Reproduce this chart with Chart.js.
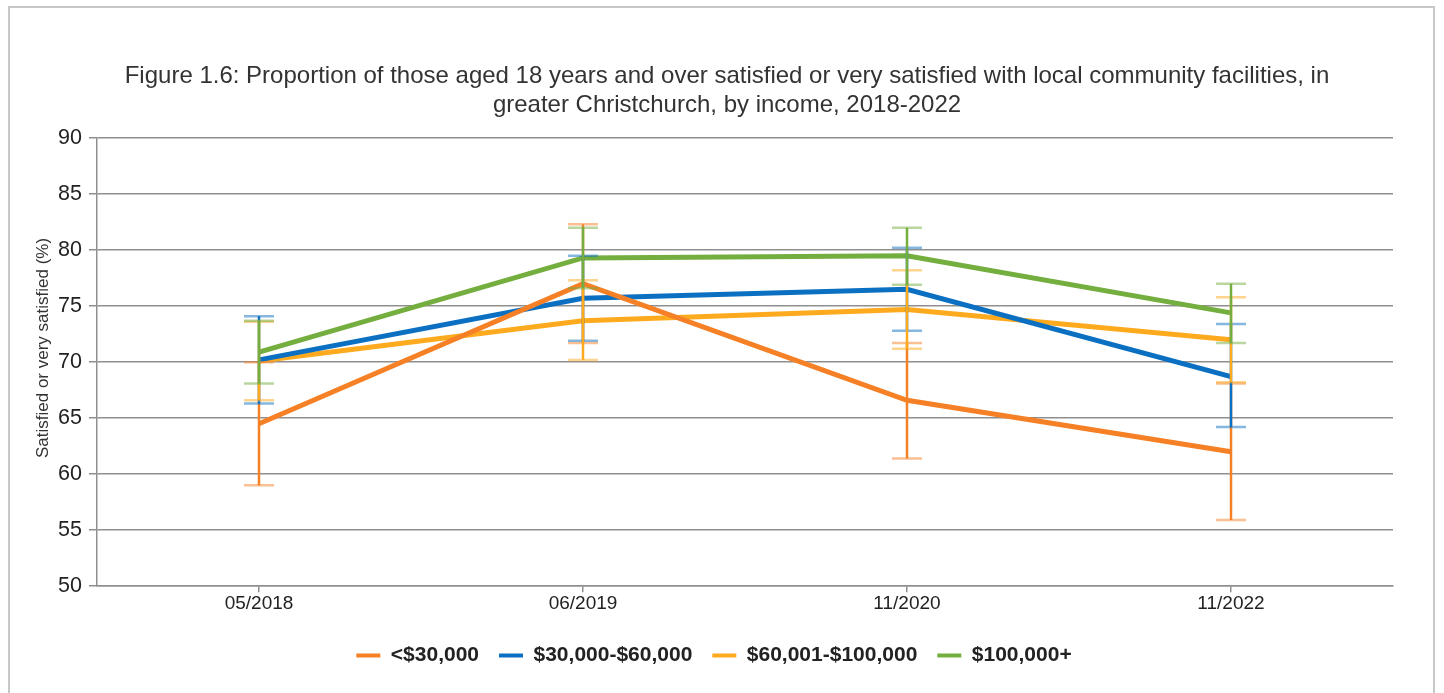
<!DOCTYPE html>
<html>
<head>
<meta charset="utf-8">
<script src="https://cdn.jsdelivr.net/npm/chart.js@4.4.1/dist/chart.umd.min.js"></script>
<style>
  html, body { margin: 0; padding: 0; background: #fff; }
  #wrap { position: relative; width: 1444px; height: 693px; overflow: hidden; }
  #frame { position: absolute; left: 8px; top: 6px; width: 1427px; height: 720px; border: 2px solid #c8c8c8; box-sizing: border-box; pointer-events: none; }
  canvas { position: absolute; left: 0; top: 0; }
</style>
</head>
<body>
<div id="wrap">
  <canvas id="grafico" width="1444" height="693"></canvas>
  <div id="frame"></div>
</div>
<script>
// periodos do inquerito
const categorias = ['05/2018', '06/2019', '11/2020', '11/2022'];

// valores (%) por faixa de renda
const ate30k = [64.5, 77.0, 66.6, 62.0];
const de30a60k = [70.2, 75.7, 76.5, 68.7];
const de60a100k = [70.1, 73.7, 74.7, 72.0];
const acima100k = [70.9, 79.3, 79.5, 74.4];

// intervalos de confianca (limite inferior / superior)
const ate30kMin = [59.0, 71.7, 61.4, 55.9];
const ate30kMax = [70.0, 82.3, 71.7, 68.1];
const de30a60kMin = [66.3, 71.9, 72.8, 64.2];
const de30a60kMax = [74.1, 79.5, 80.2, 73.4];
const de60a100kMin = [66.6, 70.2, 71.2, 68.2];
const de60a100kMax = [73.6, 77.3, 78.2, 75.8];
const acima100kMin = [68.1, 76.6, 76.9, 71.7];
const acima100kMax = [73.7, 82.0, 82.0, 77.0];

const ticksY = [50, 55, 60, 65, 70, 75, 80, 85, 90];

const FONTE = '"Liberation Sans", Arial, sans-serif';

function serie(nome, valores, cor, capa, minimos, maximos) {
    return {
        label: nome,
        data: valores,
        borderColor: cor,
        backgroundColor: cor,
        capColor: capa,
        errMin: minimos,
        errMax: maximos,
        borderWidth: 5,
        pointRadius: 0,
        pointHoverRadius: 0,
        tension: 0,
        fill: false
    };
}

// desenha as barras de erro em cima das linhas
const barrasErro = {
    id: 'barrasErro',
    afterDatasetsDraw(chart) {
        const ctx = chart.ctx;
        const y = chart.scales.y;
        chart.data.datasets.forEach((ds, i) => {
            const meta = chart.getDatasetMeta(i);
            meta.data.forEach((pt, j) => {
                const yMin = y.getPixelForValue(ds.errMin[j]);
                const yMax = y.getPixelForValue(ds.errMax[j]);
                ctx.save();
                ctx.lineWidth = 2.5;
                ctx.strokeStyle = ds.borderColor;
                ctx.beginPath();
                ctx.moveTo(pt.x, yMin);
                ctx.lineTo(pt.x, yMax);
                ctx.stroke();
                ctx.strokeStyle = ds.capColor;
                ctx.beginPath();
                ctx.moveTo(pt.x - 15, yMin); ctx.lineTo(pt.x + 15, yMin);
                ctx.moveTo(pt.x - 15, yMax); ctx.lineTo(pt.x + 15, yMax);
                ctx.stroke();
                ctx.restore();
            });
        });
    }
};

// legenda um pouco deslocada para a esquerda, como no original
const ajusteLegenda = {
    id: 'ajusteLegenda',
    afterLayout(chart) {
        if (chart.legend) {
            chart.legend.left -= 13;
            chart.legend.right -= 13;
        }
    }
};

new Chart(document.getElementById('grafico'), {
    type: 'line',
    plugins: [barrasErro, ajusteLegenda],
    data: {
        labels: categorias,
        datasets: [
            serie('<$30,000', ate30k, '#F58025', 'rgba(245,128,37,0.5)', ate30kMin, ate30kMax),
            serie('$30,000-$60,000', de30a60k, '#0C70C2', 'rgba(12,112,194,0.5)', de30a60kMin, de30a60kMax),
            serie('$60,001-$100,000', de60a100k, '#FDAA1F', 'rgba(253,170,31,0.5)', de60a100kMin, de60a100kMax),
            serie('$100,000+', acima100k, '#74AE3F', 'rgba(116,174,63,0.5)', acima100kMin, acima100kMax)
        ]
    },
    options: {
        responsive: false,
        animation: false,
        events: [],
        layout: { padding: { left: 10, right: 0, top: 0, bottom: 17 } },
        plugins: {
            title: {
                display: true,
                text: ['Figure 1.6: Proportion of those aged 18 years and over satisfied or very satisfied with local community facilities, in',
                       'greater Christchurch, by income, 2018-2022'],
                color: '#333',
                font: { family: FONTE, size: 24, weight: 'normal', lineHeight: 1.21 },
                padding: { top: 62, bottom: 18 }
            },
            legend: {
                position: 'bottom',
                labels: {
                    boxWidth: 24,
                    boxHeight: 4,
                    padding: 20,
                    color: '#222',
                    font: { family: FONTE, size: 21, weight: 'bold' },
                    generateLabels(chart) {
                        const itens = Chart.defaults.plugins.legend.labels.generateLabels(chart);
                        itens.forEach(it => { it.lineWidth = 0; });
                        return itens;
                    }
                }
            },
            tooltip: { enabled: false }
        },
        scales: {
            x: {
                offset: true,
                afterFit(scale) { scale.height = scale.height + 10; },
                grid: { display: true, drawOnChartArea: false, offset: false, tickLength: 6, color: '#8f8f8f', lineWidth: 1.5 },
                border: { display: true, color: '#8f8f8f', width: 1.5 },
                ticks: { color: '#222', padding: 0, font: { family: FONTE, size: 19 } }
            },
            y: {
                min: 50,
                max: 90,
                afterBuildTicks(scale) { scale.ticks = ticksY.map(v => ({ value: v })); },
                afterFit(scale) { scale.width = 87; },
                grid: { color: '#8f8f8f', lineWidth: 1.5, tickLength: 8 },
                border: { display: true, color: '#8f8f8f', width: 1.5 },
                ticks: { color: '#222', padding: 7, font: { family: FONTE, size: 21.5 } },
                title: {
                    display: true,
                    text: '      Satisfied or very satisfied (%)',
                    color: '#333',
                    font: { family: FONTE, size: 17 },
                    padding: { top: 23, bottom: 0 }
                }
            },
            // eixo vazio a direita so para reservar a margem
            margemDir: {
                type: 'linear',
                position: 'right',
                min: 50,
                max: 90,
                afterFit(scale) { scale.width = 51; },
                grid: { display: false },
                border: { display: false },
                ticks: { display: false }
            }
        }
    }
});
</script>
</body>
</html>
